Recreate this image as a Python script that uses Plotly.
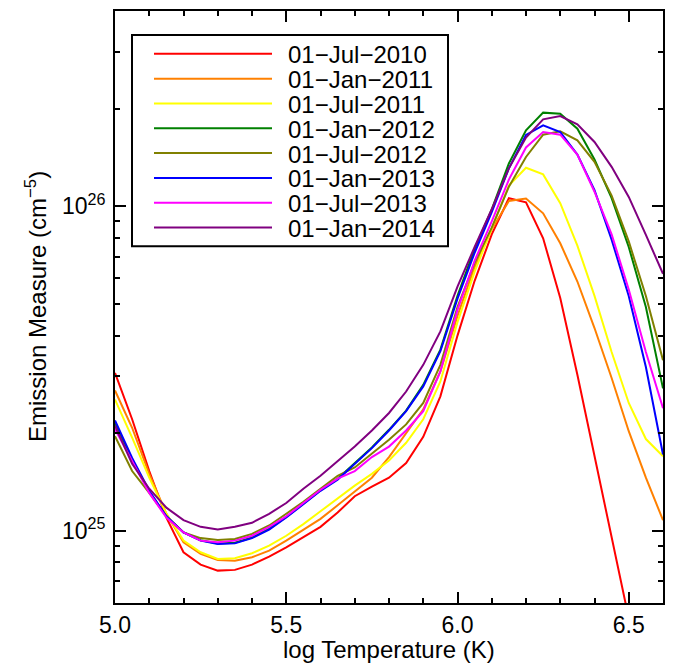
import plotly.graph_objects as go

# log Temperature grid (K)
log_T = [5.00, 5.05, 5.10, 5.15, 5.20, 5.25, 5.30, 5.35, 5.40, 5.45,
         5.50, 5.55, 5.60, 5.65, 5.70, 5.75, 5.80, 5.85, 5.90, 5.95,
         6.00, 6.05, 6.10, 6.15, 6.20, 6.25, 6.30, 6.35, 6.40, 6.45,
         6.50, 6.55, 6.60]

SCALE = 1e25  # values below are in units of 1e25 cm^-5

em_jul2010 = [3.07, 2.21, 1.53, 1.10, 0.860, 0.788, 0.755, 0.759, 0.788, 0.834,
              0.891, 0.956, 1.03, 1.14, 1.28, 1.37, 1.46, 1.62, 1.95, 2.60,
              4.0, 5.9, 8.2, 10.6, 10.3, 7.98, 5.22, 3.03, 1.70, 0.967,
              0.54, 0.30, 0.17]
em_jan2011 = [2.71, 2.08, 1.50, 1.13, 0.923, 0.850, 0.814, 0.810, 0.830, 0.870,
              0.934, 1.01, 1.09, 1.20, 1.32, 1.46, 1.69, 2.00, 2.37, 3.10,
              4.6, 6.5, 8.5, 10.4, 10.58, 9.52, 7.70, 5.87, 4.22, 2.96,
              2.03, 1.46, 1.08]
em_jul2011 = [2.54, 1.94, 1.46, 1.13, 0.934, 0.860, 0.820, 0.824, 0.854, 0.901,
              0.967, 1.05, 1.15, 1.26, 1.38, 1.50, 1.65, 1.87, 2.21, 2.89,
              4.4, 6.3, 8.6, 11.6, 13.16, 12.55, 10.23, 7.57, 5.30, 3.56,
              2.48, 1.92, 1.70]
em_jan2012 = [2.15, 1.66, 1.32, 1.11, 0.99, 0.937, 0.916, 0.920, 0.955, 1.015,
              1.105, 1.215, 1.335, 1.45, 1.62, 1.81, 2.05, 2.35, 2.82, 3.62,
              5.3, 7.4, 9.8, 13.56, 17.16, 19.45, 19.31, 17.36, 13.95, 10.6,
              7.5, 4.9, 2.75]
em_jul2012 = [1.96, 1.53, 1.31, 1.11, 0.99, 0.951, 0.938, 0.945, 0.98, 1.04,
              1.13, 1.23, 1.35, 1.48, 1.57, 1.73, 1.91, 2.13, 2.48, 3.25,
              4.9, 6.7, 8.6, 11.5, 14.2, 16.64, 17.04, 15.99, 13.72, 10.8,
              7.8, 5.3, 3.36]
em_jan2013 = [2.19, 1.68, 1.33, 1.11, 0.99, 0.934, 0.912, 0.916, 0.951, 1.01,
              1.10, 1.21, 1.33, 1.44, 1.61, 1.80, 2.04, 2.34, 2.79, 3.58,
              5.2, 7.2, 9.6, 13.1, 16.6, 17.78, 16.96, 14.45, 11.23, 7.9,
              5.3, 3.2, 1.72]
em_jul2013 = [2.06, 1.64, 1.31, 1.10, 0.99, 0.934, 0.923, 0.934, 0.967, 1.03,
              1.11, 1.22, 1.34, 1.45, 1.53, 1.69, 1.82, 2.04, 2.34, 3.10,
              4.8, 6.8, 9.0, 12.1, 15.2, 16.96, 16.64, 14.45, 11.10, 8.2,
              5.55, 3.56, 2.39]
em_jan2014 = [2.11, 1.61, 1.35, 1.18, 1.08, 1.03, 1.01, 1.03, 1.06, 1.13,
              1.22, 1.35, 1.48, 1.64, 1.82, 2.04, 2.31, 2.69, 3.25, 4.12,
              5.66, 7.5, 9.8, 13.1, 16.3, 18.55, 18.99, 17.91, 15.80, 13.24,
              10.7, 8.17, 6.2]

series_names = ["01\u2212Jul\u22122010", "01\u2212Jan\u22122011", "01\u2212Jul\u22122011",
                "01\u2212Jan\u22122012", "01\u2212Jul\u22122012", "01\u2212Jan\u22122013",
                "01\u2212Jul\u22122013", "01\u2212Jan\u22122014"]
series_values = [em_jul2010, em_jan2011, em_jul2011, em_jan2012,
                 em_jul2012, em_jan2013, em_jul2013, em_jan2014]
series_colors = ["#FF0000", "#FF8000", "#FFFF00", "#008000",
                 "#808000", "#0000FF", "#FF00FF", "#800080"]

x_ticks = [5.0, 5.5, 6.0, 6.5]
x_ticktext = ["5.0", "5.5", "6.0", "6.5"]
y_ticks = [1e25, 1e26]
y_ticktext = ["10<sup>25</sup>", "10<sup>26</sup>"]
y_minor = [6e24, 7e24, 8e24, 9e24, 2e25, 3e25, 4e25, 5e25, 6e25, 7e25, 8e25, 9e25, 2e26, 3e26]

FONT = "Liberation Sans, Arial, sans-serif"
W, H = 678, 669
ML, MR, MT, MB = 115, 15, 9, 66
PW, PH = W - ML - MR, H - MT - MB

fig = go.Figure()
for name, vals, col in zip(series_names, series_values, series_colors):
    fig.add_trace(go.Scatter(
        x=log_T, y=[v * SCALE for v in vals], mode="lines", name=name,
        line=dict(color=col, width=2), showlegend=False, cliponaxis=True))

def px2paper_x(px):
    return (px - ML) / PW

def px2paper_y(py):
    return (H - MB - py) / PH

# custom legend (long line samples, tight rows, as in the reference)
shapes = []
annotations = []
box_l, box_t, box_r, box_b = 132, 33, 448, 245
shapes.append(dict(type="rect", xref="paper", yref="paper",
                   x0=px2paper_x(box_l), x1=px2paper_x(box_r),
                   y0=px2paper_y(box_b), y1=px2paper_y(box_t),
                   line=dict(color="black", width=2), fillcolor="white", layer="above"))
row0, row_gap = 52, 24.9
for i, (name, col) in enumerate(zip(series_names, series_colors)):
    ry = row0 + row_gap * i
    shapes.append(dict(type="line", xref="paper", yref="paper",
                       x0=px2paper_x(154), x1=px2paper_x(272),
                       y0=px2paper_y(ry), y1=px2paper_y(ry),
                       line=dict(color=col, width=2), layer="above"))
    annotations.append(dict(xref="paper", yref="paper", x=px2paper_x(287), y=px2paper_y(ry + 1),
                            xanchor="left", yanchor="middle", text=name, showarrow=False,
                            height=23, borderpad=0,
                            font=dict(family=FONT, size=24, color="black")))

# axis titles
annotations.append(dict(xref="paper", yref="paper", x=0.5, y=px2paper_y(650),
                        xanchor="center", yanchor="middle", showarrow=False,
                        text="log Temperature (K)",
                        font=dict(family=FONT, size=24, color="black")))
annotations.append(dict(xref="paper", yref="paper", x=px2paper_x(36), y=0.5,
                        xanchor="center", yanchor="middle", showarrow=False, textangle=-90,
                        text="Emission Measure (cm<sup>\u22125</sup>)",
                        font=dict(family=FONT, size=24, color="black")))

fig.update_layout(
    width=W, height=H,
    margin=dict(l=ML, r=MR, t=MT, b=MB),
    paper_bgcolor="white", plot_bgcolor="white",
    font=dict(family=FONT, size=23, color="black"),
    shapes=shapes, annotations=annotations,
    showlegend=False,
)
fig.update_xaxes(
    range=[5.0, 6.6], tickvals=x_ticks, ticktext=x_ticktext,
    ticks="inside", ticklen=11, tickwidth=1.5, tickcolor="black",
    showline=True, linewidth=2, linecolor="black", mirror="allticks",
    showgrid=False, zeroline=False,
    minor=dict(dtick=0.1, tick0=5.0, ticks="inside", ticklen=5, tickwidth=1.5, tickcolor="black", showgrid=False),
    tickfont=dict(family=FONT, size=23, color="black"),
)
fig.update_yaxes(
    type="log", range=[24.7782, 26.6021], tickvals=y_ticks, ticktext=y_ticktext,
    ticks="inside", ticklen=11, tickwidth=1.5, tickcolor="black",
    showline=True, linewidth=2, linecolor="black", mirror="allticks",
    showgrid=False, zeroline=False,
    minor=dict(tickvals=y_minor, ticks="inside", ticklen=5, tickwidth=1.5, tickcolor="black", showgrid=False),
    tickfont=dict(family=FONT, size=23, color="black"),
    ticklabelstandoff=3,
)

fig.write_html("out.html", config={"displayModeBar": False},
               post_script="document.body.style.margin='0px';")
